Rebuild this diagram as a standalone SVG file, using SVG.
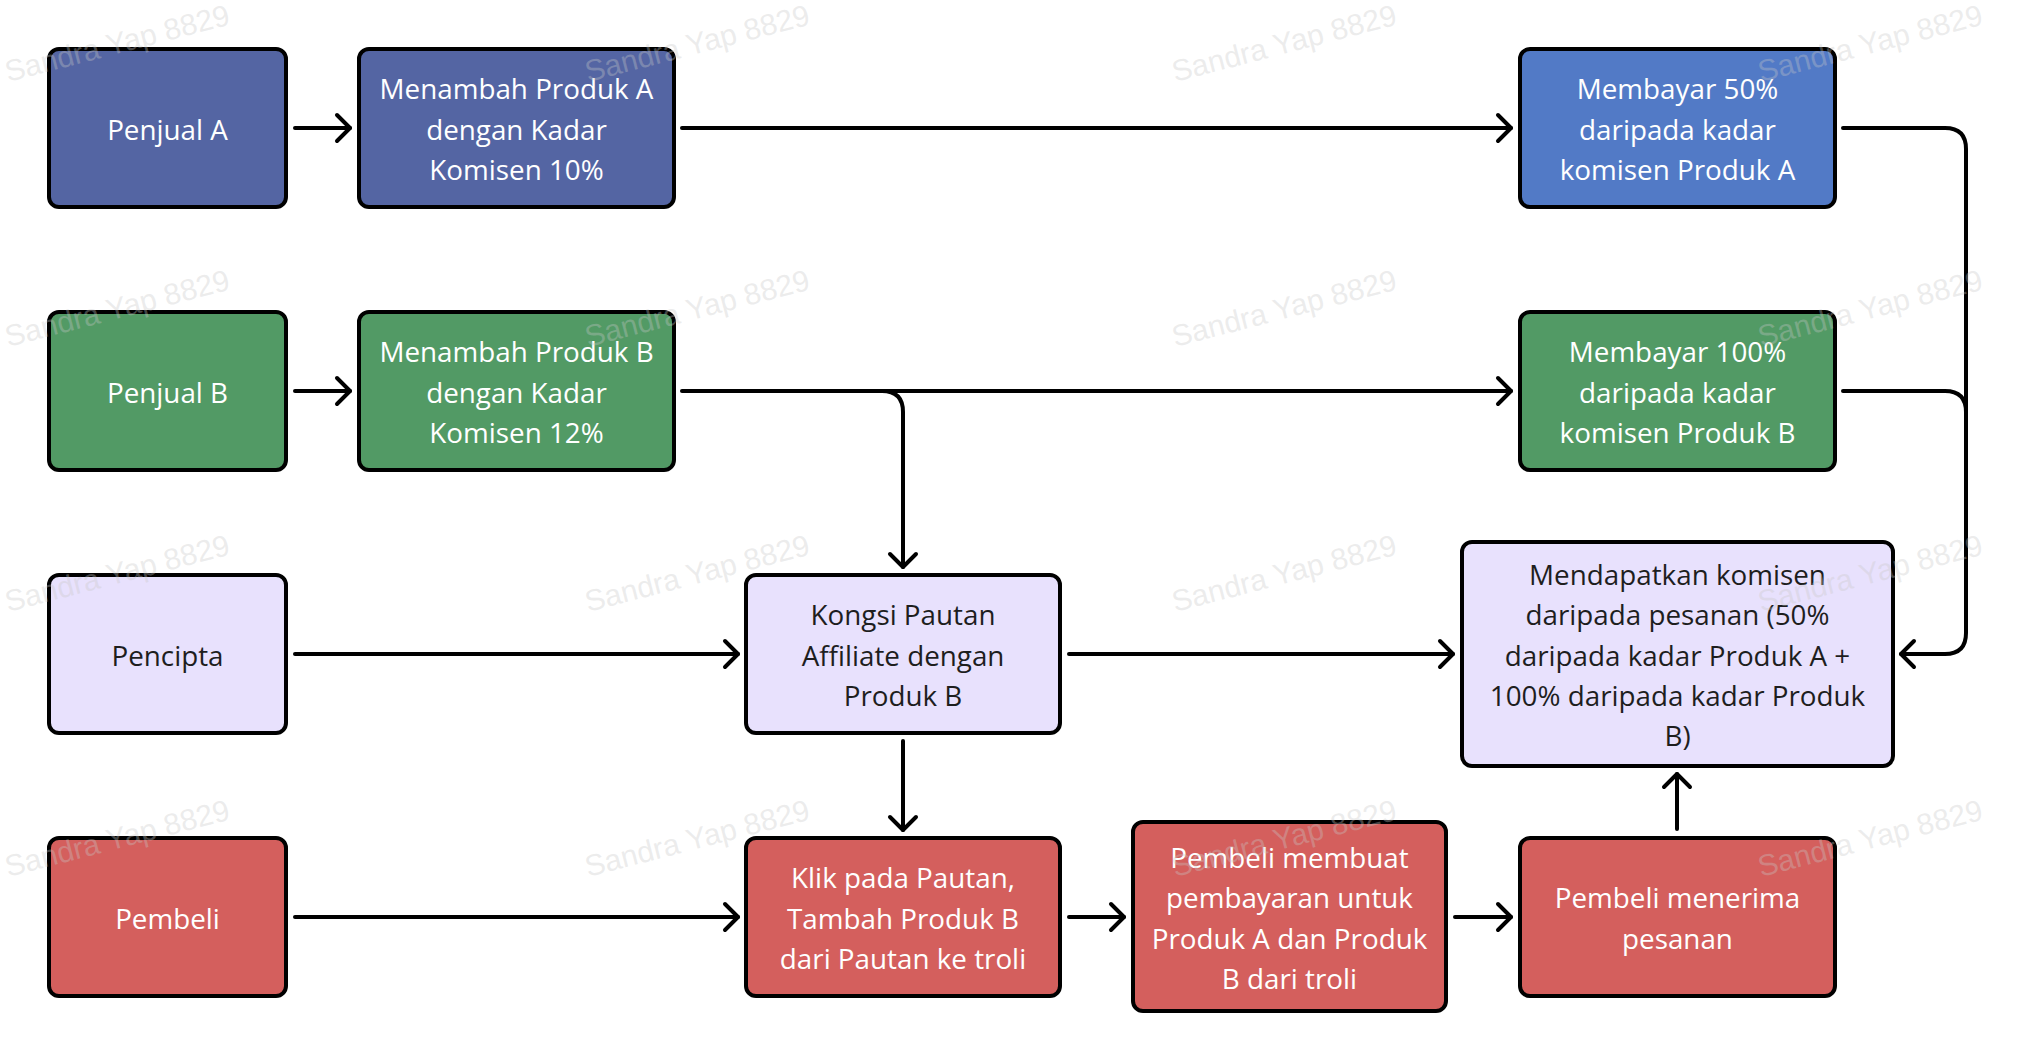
<svg xmlns="http://www.w3.org/2000/svg" width="2032" height="1062" viewBox="0 0 2032 1062">
<style>
.box{stroke:#000;stroke-width:4}
.blue{fill:#5465A3}
.lblue{fill:#527AC6}
.green{fill:#529A65}
.lav{fill:#E8E1FD}
.red{fill:#D45F5D}
.t{font-family:"Open Sans","Noto Sans",sans-serif;font-size:27.8px;text-anchor:middle}
.w{fill:#FFFFFF}
.d{fill:#1E1E1E}
.conn path{fill:none;stroke:#000;stroke-width:4;stroke-linecap:round;stroke-linejoin:round}
.wm{font-family:"Liberation Sans",Arial,sans-serif;font-size:30px;fill:#C8C8C8;fill-opacity:0.35}
</style>
<defs>
<marker id="arr" viewBox="-18 -18 24 36" refX="0" refY="0" markerWidth="24" markerHeight="36" markerUnits="userSpaceOnUse" orient="auto">
<path d="M-13,-13 L0,0 L-13,13" fill="none" stroke="#000" stroke-width="4" stroke-linecap="round" stroke-linejoin="round"/>
</marker>
</defs>
<rect width="2032" height="1062" fill="#FFFFFF"/>

<g id="penjual-a">
<rect class="box blue" x="49" y="49" width="237" height="158" rx="10"/>
<text class="t w" x="167.5" y="139.5">Penjual A</text>
</g>
<g id="menambah-a">
<rect class="box blue" x="359" y="49" width="315" height="158" rx="10"/>
<text class="t w" x="516.5" y="99.2">Menambah Produk A</text>
<text class="t w" x="516.5" y="139.5">dengan Kadar</text>
<text class="t w" x="516.5" y="179.8">Komisen 10%</text>
</g>
<g id="membayar-a">
<rect class="box lblue" x="1520" y="49" width="315" height="158" rx="10"/>
<text class="t w" x="1677.5" y="99.2">Membayar 50%</text>
<text class="t w" x="1677.5" y="139.5">daripada kadar</text>
<text class="t w" x="1677.5" y="179.8">komisen Produk A</text>
</g>

<g id="penjual-b">
<rect class="box green" x="49" y="312" width="237" height="158" rx="10"/>
<text class="t w" x="167.5" y="402.5">Penjual B</text>
</g>
<g id="menambah-b">
<rect class="box green" x="359" y="312" width="315" height="158" rx="10"/>
<text class="t w" x="516.5" y="362.2">Menambah Produk B</text>
<text class="t w" x="516.5" y="402.5">dengan Kadar</text>
<text class="t w" x="516.5" y="442.8">Komisen 12%</text>
</g>
<g id="membayar-b">
<rect class="box green" x="1520" y="312" width="315" height="158" rx="10"/>
<text class="t w" x="1677.5" y="362.2">Membayar 100%</text>
<text class="t w" x="1677.5" y="402.5">daripada kadar</text>
<text class="t w" x="1677.5" y="442.8">komisen Produk B</text>
</g>

<g id="pencipta">
<rect class="box lav" x="49" y="575" width="237" height="158" rx="10"/>
<text class="t d" x="167.5" y="665.5">Pencipta</text>
</g>
<g id="kongsi">
<rect class="box lav" x="746" y="575" width="314" height="158" rx="10"/>
<text class="t d" x="903" y="625.2">Kongsi Pautan</text>
<text class="t d" x="903" y="665.5">Affiliate dengan</text>
<text class="t d" x="903" y="705.8">Produk B</text>
</g>
<g id="mendapatkan">
<rect class="box lav" x="1462" y="542" width="431" height="224" rx="10"/>
<text class="t d" x="1677.5" y="584.9">Mendapatkan komisen</text>
<text class="t d" x="1677.5" y="625.2">daripada pesanan (50%</text>
<text class="t d" x="1677.5" y="665.5">daripada kadar Produk A +</text>
<text class="t d" x="1677.5" y="705.8">100% daripada kadar Produk</text>
<text class="t d" x="1677.5" y="746.1">B)</text>
</g>

<g id="pembeli">
<rect class="box red" x="49" y="838" width="237" height="158" rx="10"/>
<text class="t w" x="167.5" y="928.5">Pembeli</text>
</g>
<g id="klik">
<rect class="box red" x="746" y="838" width="314" height="158" rx="10"/>
<text class="t w" x="903" y="888.2">Klik pada Pautan,</text>
<text class="t w" x="903" y="928.5">Tambah Produk B</text>
<text class="t w" x="903" y="968.8">dari Pautan ke troli</text>
</g>
<g id="pembeli-membuat">
<rect class="box red" x="1133" y="822" width="313" height="189" rx="10"/>
<text class="t w" x="1289.5" y="868">Pembeli membuat</text>
<text class="t w" x="1289.5" y="908.3">pembayaran untuk</text>
<text class="t w" x="1289.5" y="948.6">Produk A dan Produk</text>
<text class="t w" x="1289.5" y="988.9">B dari troli</text>
</g>
<g id="pembeli-menerima">
<rect class="box red" x="1520" y="838" width="315" height="158" rx="10"/>
<text class="t w" x="1677.5" y="908.3">Pembeli menerima</text>
<text class="t w" x="1677.5" y="948.6">pesanan</text>
</g>

<g id="connectors" class="conn">
<path d="M295,128 H350" marker-end="url(#arr)"/>
<path d="M682,128 H1511" marker-end="url(#arr)"/>
<path d="M1843,128 H1945 Q1966,128 1966,149 V633 Q1966,654 1945,654 H1901" marker-end="url(#arr)"/>
<path d="M1843,391 H1945 Q1966,391 1966,412 V430"/>
<path d="M295,391 H350" marker-end="url(#arr)"/>
<path d="M682,391 H1511" marker-end="url(#arr)"/>
<path d="M870,391 H882 Q903,391 903,412 V567" marker-end="url(#arr)"/>
<path d="M295,654 H738" marker-end="url(#arr)"/>
<path d="M1069,654 H1453" marker-end="url(#arr)"/>
<path d="M903,741 V830" marker-end="url(#arr)"/>
<path d="M295,917 H738" marker-end="url(#arr)"/>
<path d="M1069,917 H1124" marker-end="url(#arr)"/>
<path d="M1455,917 H1511" marker-end="url(#arr)"/>
<path d="M1677,829 V774" marker-end="url(#arr)"/>
</g>

<g id="watermarks">
<text class="wm" transform="translate(8,82) rotate(-14.5)">Sandra Yap 8829</text>
<text class="wm" transform="translate(588,82) rotate(-14.5)">Sandra Yap 8829</text>
<text class="wm" transform="translate(1175,82) rotate(-14.5)">Sandra Yap 8829</text>
<text class="wm" transform="translate(1761,82) rotate(-14.5)">Sandra Yap 8829</text>
<text class="wm" transform="translate(8,347) rotate(-14.5)">Sandra Yap 8829</text>
<text class="wm" transform="translate(588,347) rotate(-14.5)">Sandra Yap 8829</text>
<text class="wm" transform="translate(1175,347) rotate(-14.5)">Sandra Yap 8829</text>
<text class="wm" transform="translate(1761,347) rotate(-14.5)">Sandra Yap 8829</text>
<text class="wm" transform="translate(8,612) rotate(-14.5)">Sandra Yap 8829</text>
<text class="wm" transform="translate(588,612) rotate(-14.5)">Sandra Yap 8829</text>
<text class="wm" transform="translate(1175,612) rotate(-14.5)">Sandra Yap 8829</text>
<text class="wm" transform="translate(1761,612) rotate(-14.5)">Sandra Yap 8829</text>
<text class="wm" transform="translate(8,877) rotate(-14.5)">Sandra Yap 8829</text>
<text class="wm" transform="translate(588,877) rotate(-14.5)">Sandra Yap 8829</text>
<text class="wm" transform="translate(1175,877) rotate(-14.5)">Sandra Yap 8829</text>
<text class="wm" transform="translate(1761,877) rotate(-14.5)">Sandra Yap 8829</text>
</g>
</svg>
